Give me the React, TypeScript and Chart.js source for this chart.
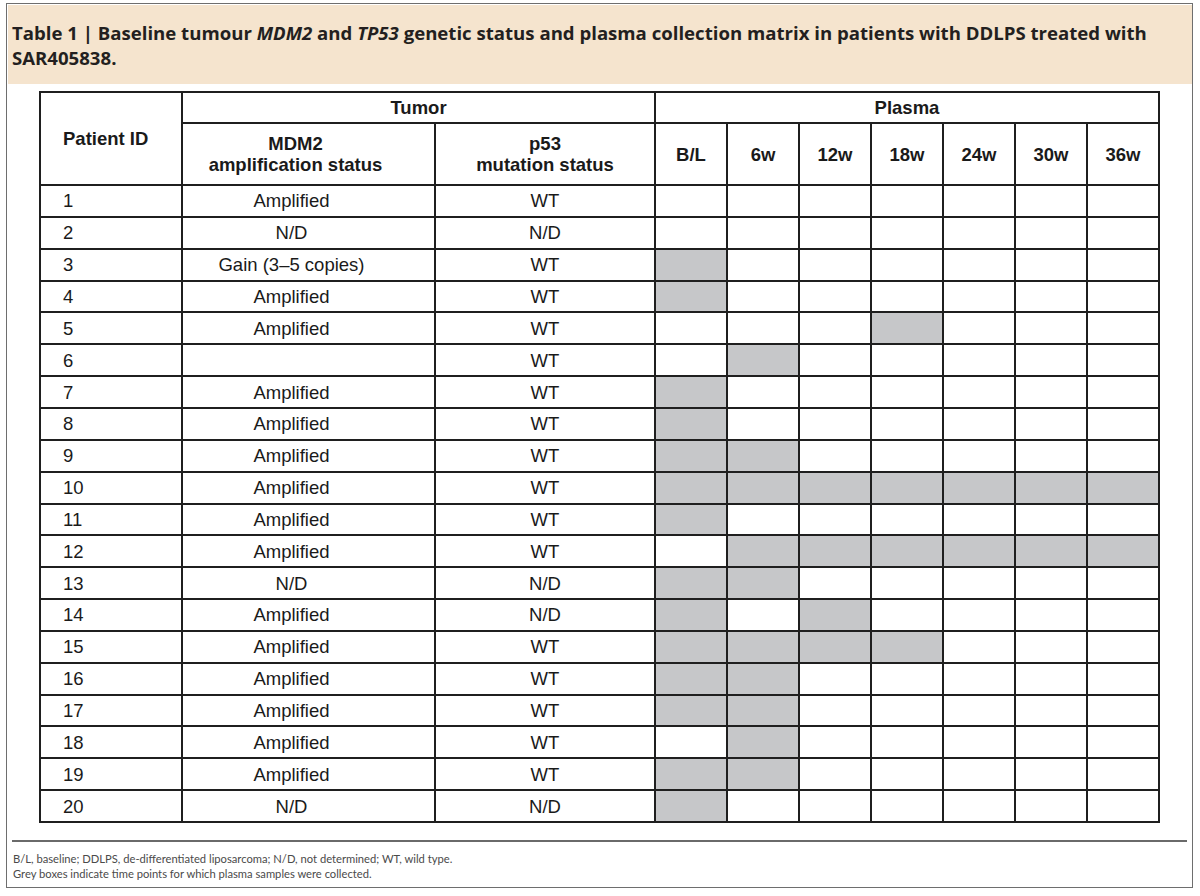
import React, { useEffect, useRef } from 'react';
import { Chart, registerables } from 'chart.js';

Chart.register(...registerables);

// ---------- data ----------
const patientIds = ['1', '2', '3', '4', '5', '6', '7', '8', '9', '10', '11', '12', '13', '14', '15', '16', '17', '18', '19', '20'];
const mdm2Status = ['Amplified', 'N/D', 'Gain (3–5 copies)', 'Amplified', 'Amplified', '', 'Amplified', 'Amplified', 'Amplified', 'Amplified', 'Amplified', 'Amplified', 'N/D', 'Amplified', 'Amplified', 'Amplified', 'Amplified', 'Amplified', 'Amplified', 'N/D'];
const p53Status = ['WT', 'N/D', 'WT', 'WT', 'WT', 'WT', 'WT', 'WT', 'WT', 'WT', 'WT', 'WT', 'N/D', 'N/D', 'WT', 'WT', 'WT', 'WT', 'WT', 'N/D'];
const timePoints = ['B/L', '6w', '12w', '18w', '24w', '30w', '36w'];
// 1 = plasma sample collected at that time point (grey box)
const collectedBL = [0, 0, 1, 1, 0, 0, 1, 1, 1, 1, 1, 0, 1, 1, 1, 1, 1, 0, 1, 1];
const collected6w = [0, 0, 0, 0, 0, 1, 0, 0, 1, 1, 0, 1, 1, 0, 1, 1, 1, 1, 1, 0];
const collected12w = [0, 0, 0, 0, 0, 0, 0, 0, 0, 1, 0, 1, 0, 1, 1, 0, 0, 0, 0, 0];
const collected18w = [0, 0, 0, 0, 1, 0, 0, 0, 0, 1, 0, 1, 0, 0, 1, 0, 0, 0, 0, 0];
const collected24w = [0, 0, 0, 0, 0, 0, 0, 0, 0, 1, 0, 1, 0, 0, 0, 0, 0, 0, 0, 0];
const collected30w = [0, 0, 0, 0, 0, 0, 0, 0, 0, 1, 0, 1, 0, 0, 0, 0, 0, 0, 0, 0];
const collected36w = [0, 0, 0, 0, 0, 0, 0, 0, 0, 1, 0, 1, 0, 0, 0, 0, 0, 0, 0, 0];
const collectionMatrix = [collectedBL, collected6w, collected12w, collected18w, collected24w, collected30w, collected36w];

const titleBefore = 'Table 1 | Baseline tumour ';
const footnote1 = 'B/L, baseline; DDLPS, de-differentiated liposarcoma; N/D, not determined; WT, wild type.';
const footnote2 = 'Grey boxes indicate time points for which plasma samples were collected.';

// ---------- layout ----------
const LINE = '#1f1f1f';
const GREY = '#c6c7c9';
const TBL_L = 40;
const COL_ID_R = 182;
const COL_MDM2_R = 435;
const PL_L = 655;
const PL_R = 1159;
const TOP = 92;
const SUB_TOP = 123;
const BODY_TOP = 185;
const BODY_BOT = 822;
const ROW_H = (BODY_BOT - BODY_TOP) / patientIds.length;
const PL_W = (PL_R - PL_L) / timePoints.length;
const FONT = '"Liberation Sans", Arial, sans-serif';

function HLine({ x1, x2, y, w = 2, c = LINE }: any) {
  return <div style={{ position: 'absolute', left: x1 - w / 2, top: y - w / 2, width: x2 - x1 + w, height: w, background: c }} />;
}
function VLine({ x, y1, y2, w = 2, c = LINE }: any) {
  return <div style={{ position: 'absolute', left: x - w / 2, top: y1 - w / 2, width: w, height: y2 - y1 + w, background: c }} />;
}
function Cell({ x1, x2, y1, y2, children, align = 'center', pl = 0, pr = 0, bold = false }: any) {
  return (
    <div
      style={{
        position: 'absolute', left: x1, top: y1, width: x2 - x1, height: y2 - y1,
        display: 'flex', alignItems: 'center',
        justifyContent: align === 'left' ? 'flex-start' : 'center',
        paddingLeft: pl, paddingRight: pr, boxSizing: 'border-box',
        fontFamily: FONT, fontSize: 18.5, fontWeight: bold ? 700 : 400,
        color: '#1a1a1a', textAlign: 'center', lineHeight: '21px', whiteSpace: 'nowrap',
      }}
    >
      <div>{children}</div>
    </div>
  );
}

function PlasmaMatrix() {
  const ref = useRef<HTMLCanvasElement>(null);
  useEffect(() => {
    if (!ref.current) return;
    const chart = new Chart(ref.current, {
      type: 'bar',
      data: {
        labels: patientIds,
        datasets: timePoints.map((t, ti) => ({
          label: t,
          data: collectionMatrix[ti].map((v) => (v ? [ti, ti + 1] : null)) as any,
          backgroundColor: GREY,
          borderWidth: 0,
          grouped: false,
          barPercentage: 1,
          categoryPercentage: 1,
        })),
      },
      options: {
        indexAxis: 'y',
        animation: false,
        responsive: false,
        devicePixelRatio: 1,
        layout: { padding: 2 },
        plugins: { legend: { display: false }, tooltip: { enabled: false }, title: { display: false } },
        scales: {
          x: {
            type: 'linear', min: 0, max: timePoints.length,
            ticks: { display: false, stepSize: 1 },
            grid: { color: LINE, lineWidth: 2, drawTicks: false, z: 1 },
            border: { display: true, color: LINE, width: 2, z: 1 },
            afterFit: (s: any) => { s.height = 0; },
          },
          y: {
            type: 'category',
            ticks: { display: false },
            grid: { color: LINE, lineWidth: 2, drawTicks: false, offset: true, z: 1 },
            border: { display: true, color: LINE, width: 2, z: 1 },
            afterFit: (s: any) => { s.width = 0; },
          },
        },
      } as any,
    });
    return () => chart.destroy();
  }, []);
  const w = PL_R - PL_L + 4;
  const h = BODY_BOT - BODY_TOP + 4;
  return (
    <canvas
      ref={ref}
      width={w}
      height={h}
      style={{ position: 'absolute', left: PL_L - 2, top: BODY_TOP - 2, width: w, height: h }}
    />
  );
}

export default function App() {
  const rowTop = (i: number) => BODY_TOP + i * ROW_H;
  return (
    <div style={{ position: 'absolute', left: 0, top: 0, width: 1200, height: 896, background: '#fff', overflow: 'hidden' }}>
      {/* outer frame */}
      <div style={{ position: 'absolute', left: 6, top: 3, width: 1187, height: 885, border: '1.5px solid #6e6e6e', boxSizing: 'border-box' }} />
      {/* title banner */}
      <div style={{ position: 'absolute', left: 7.5, top: 4.5, width: 1184, height: 79, background: '#f5e4ce' }} />
      <div style={{ position: 'absolute', left: 12, top: 20, fontFamily: '"Open Sans", sans-serif', fontWeight: 700, fontSize: 18.6, lineHeight: '25px', color: '#231f20', whiteSpace: 'nowrap' }}>
        {titleBefore}<i>MDM2</i> and <i>TP53</i> genetic status and plasma collection matrix in patients with DDLPS treated with<br />SAR405838.
      </div>

      {/* table lines outside the plasma matrix */}
      <HLine x1={TBL_L} x2={PL_R} y={TOP} />
      <HLine x1={COL_ID_R} x2={PL_R} y={SUB_TOP} />
      <HLine x1={TBL_L} x2={PL_R} y={BODY_TOP} />
      {patientIds.map((_, i) => (
        <HLine key={'h' + i} x1={TBL_L} x2={PL_L} y={rowTop(i + 1)} />
      ))}
      <VLine x={TBL_L} y1={TOP} y2={BODY_BOT} />
      <VLine x={COL_ID_R} y1={TOP} y2={BODY_BOT} />
      <VLine x={COL_MDM2_R} y1={SUB_TOP} y2={BODY_BOT} />
      <VLine x={PL_L} y1={TOP} y2={BODY_BOT} />
      <VLine x={PL_R} y1={TOP} y2={BODY_BOT} />
      {timePoints.slice(1).map((_, k) => (
        <VLine key={'v' + k} x={PL_L + (k + 1) * PL_W} y1={SUB_TOP} y2={BODY_TOP} />
      ))}

      {/* header text */}
      <Cell x1={TBL_L} x2={COL_ID_R} y1={TOP} y2={BODY_TOP} align="left" pl={23} bold>Patient ID</Cell>
      <Cell x1={COL_ID_R} x2={PL_L} y1={TOP} y2={SUB_TOP} bold>Tumor</Cell>
      <Cell x1={PL_L} x2={PL_R} y1={TOP} y2={SUB_TOP} bold>Plasma</Cell>
      <Cell x1={COL_ID_R} x2={COL_MDM2_R} y1={SUB_TOP} y2={BODY_TOP} pr={26} bold>MDM2<br />amplification status</Cell>
      <Cell x1={COL_MDM2_R} x2={PL_L} y1={SUB_TOP} y2={BODY_TOP} bold>p53<br />mutation status</Cell>
      {timePoints.map((t, k) => (
        <Cell key={'t' + k} x1={PL_L + k * PL_W} x2={PL_L + (k + 1) * PL_W} y1={SUB_TOP} y2={BODY_TOP} bold>{t}</Cell>
      ))}

      {/* body text */}
      {patientIds.map((id, i) => (
        <React.Fragment key={'r' + i}>
          <Cell x1={TBL_L} x2={COL_ID_R} y1={rowTop(i)} y2={rowTop(i + 1)} align="left" pl={23}>{id}</Cell>
          <Cell x1={COL_ID_R} x2={COL_MDM2_R} y1={rowTop(i)} y2={rowTop(i + 1)} pr={34}>{mdm2Status[i]}</Cell>
          <Cell x1={COL_MDM2_R} x2={PL_L} y1={rowTop(i)} y2={rowTop(i + 1)}>{p53Status[i]}</Cell>
        </React.Fragment>
      ))}

      <PlasmaMatrix />

      {/* footnote */}
      <HLine x1={13} x2={1186} y={841} w={1.5} c="#6a6a6a" />
      <div style={{ position: 'absolute', left: 13, top: 851, fontFamily: 'Lato, sans-serif', fontSize: 11.2, lineHeight: '15px', color: '#4a4a4a', whiteSpace: 'nowrap' }}>
        {footnote1}<br />{footnote2}
      </div>
    </div>
  );
}
